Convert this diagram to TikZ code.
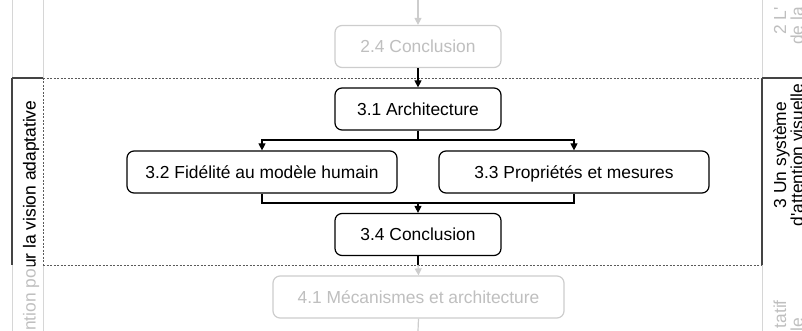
\documentclass[tikz,border=0pt]{standalone}
\usepackage{fontspec}
\setmainfont{Liberation Sans}
\usetikzlibrary{arrows.meta}
\definecolor{fadeline}{HTML}{D6D6D6}
\definecolor{fadetext}{HTML}{BFBFBF}
\definecolor{fadebox}{HTML}{CDCDCD}
\definecolor{darkline}{HTML}{444444}
\definecolor{dashline}{HTML}{5A5A5A}
\begin{document}
\begin{tikzpicture}[x=1pt,y=-1pt,
  every node/.style={font=\fontsize{17.4}{21}\selectfont, inner sep=0pt},
  sect/.style={draw=black, line width=1.2pt, rounded corners=7pt, fill=white,
    minimum height=42pt, text height=12.5pt, text depth=0pt, align=center},
  fadesect/.style={sect, draw=fadebox, text=fadetext},
  conn/.style={line width=1.2pt, -{Triangle[length=7pt,width=7pt]}},
  plainconn/.style={line width=1.2pt},
  lanelbl/.style={rotate=90},
  bandsep/.style={draw=dashline, line width=0.8pt, dash pattern=on 2pt off 1.5pt},
  faderule/.style={draw=fadeline, line width=1pt},
  darkrule/.style={draw=darkline, line width=1.3pt}
]
\useasboundingbox (0,0) rectangle (802,331);
\clip (0,0) rectangle (802,331);

% lane rules
\draw[faderule] (12,0) -- (12,78);
\draw[faderule] (12,265) -- (12,331);
\draw[faderule] (43,0) -- (43,78);
\draw[faderule] (43,265) -- (43,331);
\draw[faderule] (762,0) -- (762,78);
\draw[faderule] (762,265) -- (762,331);
\draw[darkrule] (12,78) -- (12,265);
\draw[darkrule] (762,78) -- (762,265);
\draw[darkrule] (12,78) -- (43,78);
\draw[darkrule] (762,78) -- (802,78);
\draw[bandsep] (43,78) -- (762,78);
\draw[bandsep] (43,265) -- (762,265);
\draw[bandsep] (43,78) -- (43,265);

% left lane label
\node[lanelbl, anchor=base west, text=fadetext] (partout) at (35.5,331) {ntion pour la vision adaptative};
\begin{scope}
  \clip (12,78) rectangle (43,265);
  \node[lanelbl, anchor=base west, text=black] (partin) at (35.5,331) {ntion pour la vision adaptative};
\end{scope}

% right lane labels
\node[lanelbl, anchor=base west, text=fadetext] (ch2a) at (786,35) {2 L\textquotesingle};
\node[lanelbl, anchor=base west, text=fadetext] (ch2b) at (803,45) {de la};
\node[lanelbl, anchor=base east, text=fadetext] (ch4a) at (786,300) {tatif};
\node[lanelbl, anchor=base east, text=fadetext] (ch4b) at (803,318) {le};
\begin{scope}
  \clip (762,78) rectangle (802,265);
  \node[lanelbl, anchor=base] (ch3a) at (786,155) {3 Un système};
  \node[lanelbl, anchor=base] (ch3b) at (803,155) {d\textquotesingle attention visuelle};
\end{scope}

% section boxes
\node[fadesect, minimum width=166pt] (c24) at (418,46.5) {2.4 Conclusion};
\node[sect, minimum width=166pt] (c31) at (418,109) {3.1 Architecture};
\node[sect, minimum width=270pt] (c32) at (262,172) {3.2 Fidélité au modèle humain};
\node[sect, minimum width=270pt] (c33) at (574,172) {3.3 Propriétés et mesures};
\node[sect, minimum width=166pt] (c34) at (418,234.5) {3.4 Conclusion};
\node[fadesect, minimum width=291pt] (c41) at (418.5,297) {4.1 Mécanismes et architecture};

% connectors
\coordinate (topin) at (418,0);
\coordinate (split) at (418,140);
\coordinate (join) at (418,203);
\coordinate (cut) at (418,265);
\coordinate (botout) at (418,331);
\draw[conn, draw=fadebox] (topin) -- (c24.north);
\draw[conn] (c24.south) -- (c31.north);
\draw[plainconn] (c31.south) -- (split);
\draw[conn] (split) -| (c32.north);
\draw[conn] (split) -| (c33.north);
\draw[plainconn] (c32.south) |- (join);
\draw[plainconn] (c33.south) |- (join);
\draw[conn] (join) -- (c34.north);
\draw[plainconn] (c34.south) -- (cut);
\draw[conn, draw=fadebox] (cut) -- (c41.north);
\draw[plainconn, draw=fadebox] (c41.south) -- (botout);
\end{tikzpicture}
\end{document}
